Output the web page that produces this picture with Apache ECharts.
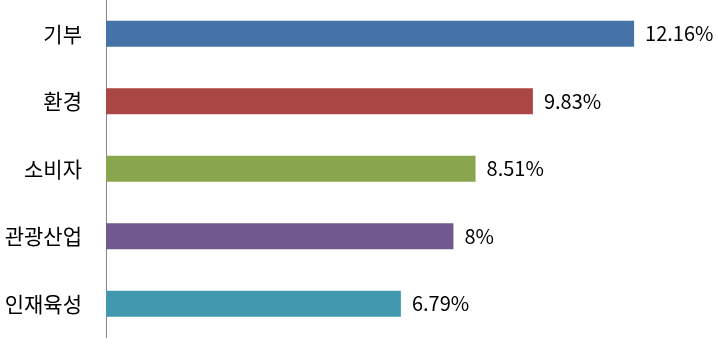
<!DOCTYPE html>
<html><head><meta charset="utf-8">
<script src="https://cdn.jsdelivr.net/npm/echarts@6/dist/echarts.min.js"></script>
<style>html,body{margin:0;padding:0;background:#fff}#c{width:718px;height:348px}</style>
</head><body><div id="c"></div>
<script>
const categories = ['기부', '환경', '소비자', '관광산업', '인재육성'];
const values = [12.16, 9.83, 8.51, 8, 6.79];
const colors = ['#4572A7', '#AA4643', '#89A54E', '#71588F', '#4198AF'];

const chart = echarts.init(document.getElementById('c'));
chart.setOption({
  animation: false,
  grid: { left: 106, right: 4, top: 0, bottom: 10.5, containLabel: false },
  xAxis: { type: 'value', min: 0, max: 14, show: false },
  yAxis: {
    type: 'category', inverse: true, data: categories,
    axisLine: { show: true, lineStyle: { color: '#868686', width: 1 } },
    axisTick: { show: false },
    axisLabel: { margin: 24, fontSize: 21, color: '#000', fontFamily: 'Noto Sans CJK KR' }
  },
  series: [{
    type: 'bar', barWidth: 26,
    data: values.map((v, i) => ({ value: v, itemStyle: { color: colors[i] } })),
    label: {
      show: true, position: 'right', distance: 11, fontSize: 20, color: '#000',
      fontFamily: 'Noto Sans CJK KR', formatter: p => p.value + '%'
    }
  }]
});
</script></body></html>
